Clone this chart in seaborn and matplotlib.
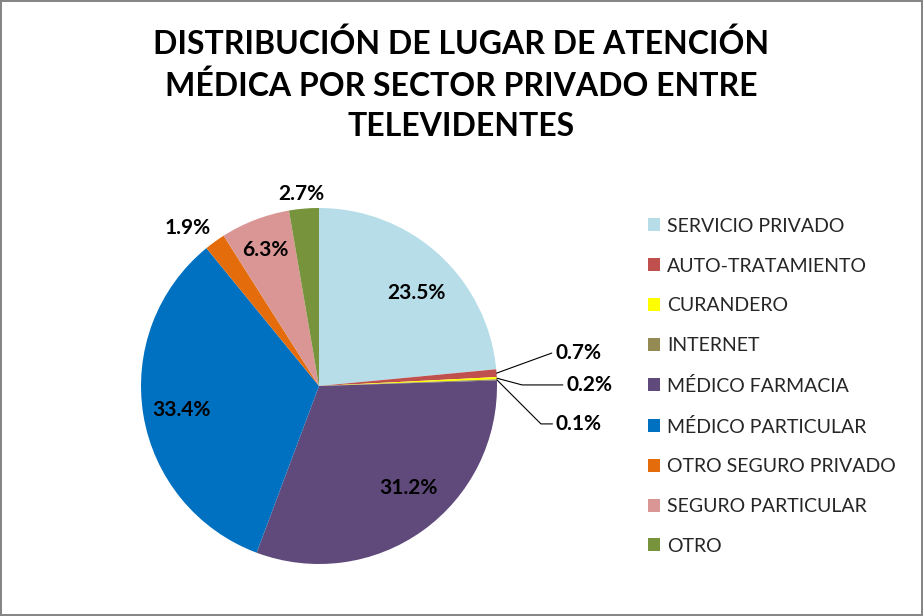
import numpy as np
import pandas as pd
import seaborn as sns
import matplotlib.pyplot as plt
from matplotlib.patches import Patch

# Chart data
categories = [
    "SERVICIO PRIVADO",
    "AUTO-TRATAMIENTO",
    "CURANDERO",
    "INTERNET",
    "MÉDICO FARMACIA",
    "MÉDICO PARTICULAR",
    "OTRO SEGURO PRIVADO",
    "SEGURO PARTICULAR",
    "OTRO",
]
shares = [23.5, 0.7, 0.2, 0.1, 31.2, 33.4, 1.9, 6.3, 2.7]
colors = ["#B7DEE8", "#C0504D", "#FFFF00", "#948A54", "#604A7B",
          "#0070C0", "#E46C0A", "#D99694", "#77933C"]

title = "DISTRIBUCIÓN DE LUGAR DE ATENCIÓN\nMÉDICA POR SECTOR PRIVADO ENTRE\nTELEVIDENTES"

# label placement: radius factor and angular nudge (degrees) per slice
label_r = [0.755, None, None, None, 0.76, 0.787, 1.153, 0.823, 1.083]
label_dang = [-3.9, 0, 0, 0, 5.5, 0.5, 3.9, 0.6, 0.5]
# leader-line labels for tiny slices: (x, y) in pie-radius units, text left aligned
leader_pos = {1: (1.326, 0.185), 2: (1.388, 0.006), 3: (1.33, -0.213)}
leader_bend = {1: 20, 2: -15, 3: -45}


def main():
    sns.set_theme(style="white")
    plt.rcParams["font.family"] = ["Lato", "DejaVu Sans"]

    df = pd.DataFrame({"lugar": categories, "pct": shares, "color": colors})

    fig = plt.figure(figsize=(9.23, 6.16), dpi=100, facecolor="white",
                     edgecolor="#868686", linewidth=1.5)
    W, H = 923, 616
    cx, cy, r = 319, 386, 178
    ax = fig.add_axes([(cx - r) / W, (H - cy - r) / H, 2 * r / W, 2 * r / H])

    wedges, _ = ax.pie(df["pct"], colors=df["color"], startangle=90,
                       counterclock=False, radius=1.0,
                       wedgeprops=dict(linewidth=0))
    ax.set_xlim(-1, 1)
    ax.set_ylim(-1, 1)
    ax.set_aspect("equal")
    ax.axis("off")

    for i, w in enumerate(wedges):
        mid = np.deg2rad((w.theta1 + w.theta2) / 2)
        txt = f"{df['pct'][i]:.1f}%"
        if i in leader_pos:
            tx, ty = leader_pos[i]
            ax.annotate(txt, xy=(np.cos(mid), np.sin(mid)), xytext=(tx, ty),
                        ha="left", va="center", fontsize=15, fontweight="bold",
                        color="black",
                        arrowprops=dict(arrowstyle="-", color="black", lw=0.8,
                                        shrinkA=0, shrinkB=0,
                                        connectionstyle="angle,angleA=0,angleB=%d"
                                        % leader_bend[i]))
        else:
            rr = label_r[i]
            ang = mid + np.deg2rad(label_dang[i])
            ax.text(rr * np.cos(ang), rr * np.sin(ang), txt, ha="center",
                    va="center", fontsize=15, fontweight="bold", color="black")

    handles = [Patch(facecolor=c, edgecolor="none") for c in df["color"]]
    fig.legend(handles, df["lugar"], loc="upper left",
               bbox_to_anchor=(640 / W, 1 - 210 / H), frameon=False,
               fontsize=14, handlelength=0.65, handleheight=0.65,
               handletextpad=0.35, labelspacing=1.17, borderaxespad=0)

    fig.text(0.5, 1 - 28 / H, title, ha="center", va="top", fontsize=23,
             fontweight="bold", linespacing=1.47, color="black")

    fig.savefig("out.png", dpi=100, facecolor=fig.get_facecolor(),
                edgecolor=fig.get_edgecolor())
    plt.close(fig)


if __name__ == "__main__":
    main()
